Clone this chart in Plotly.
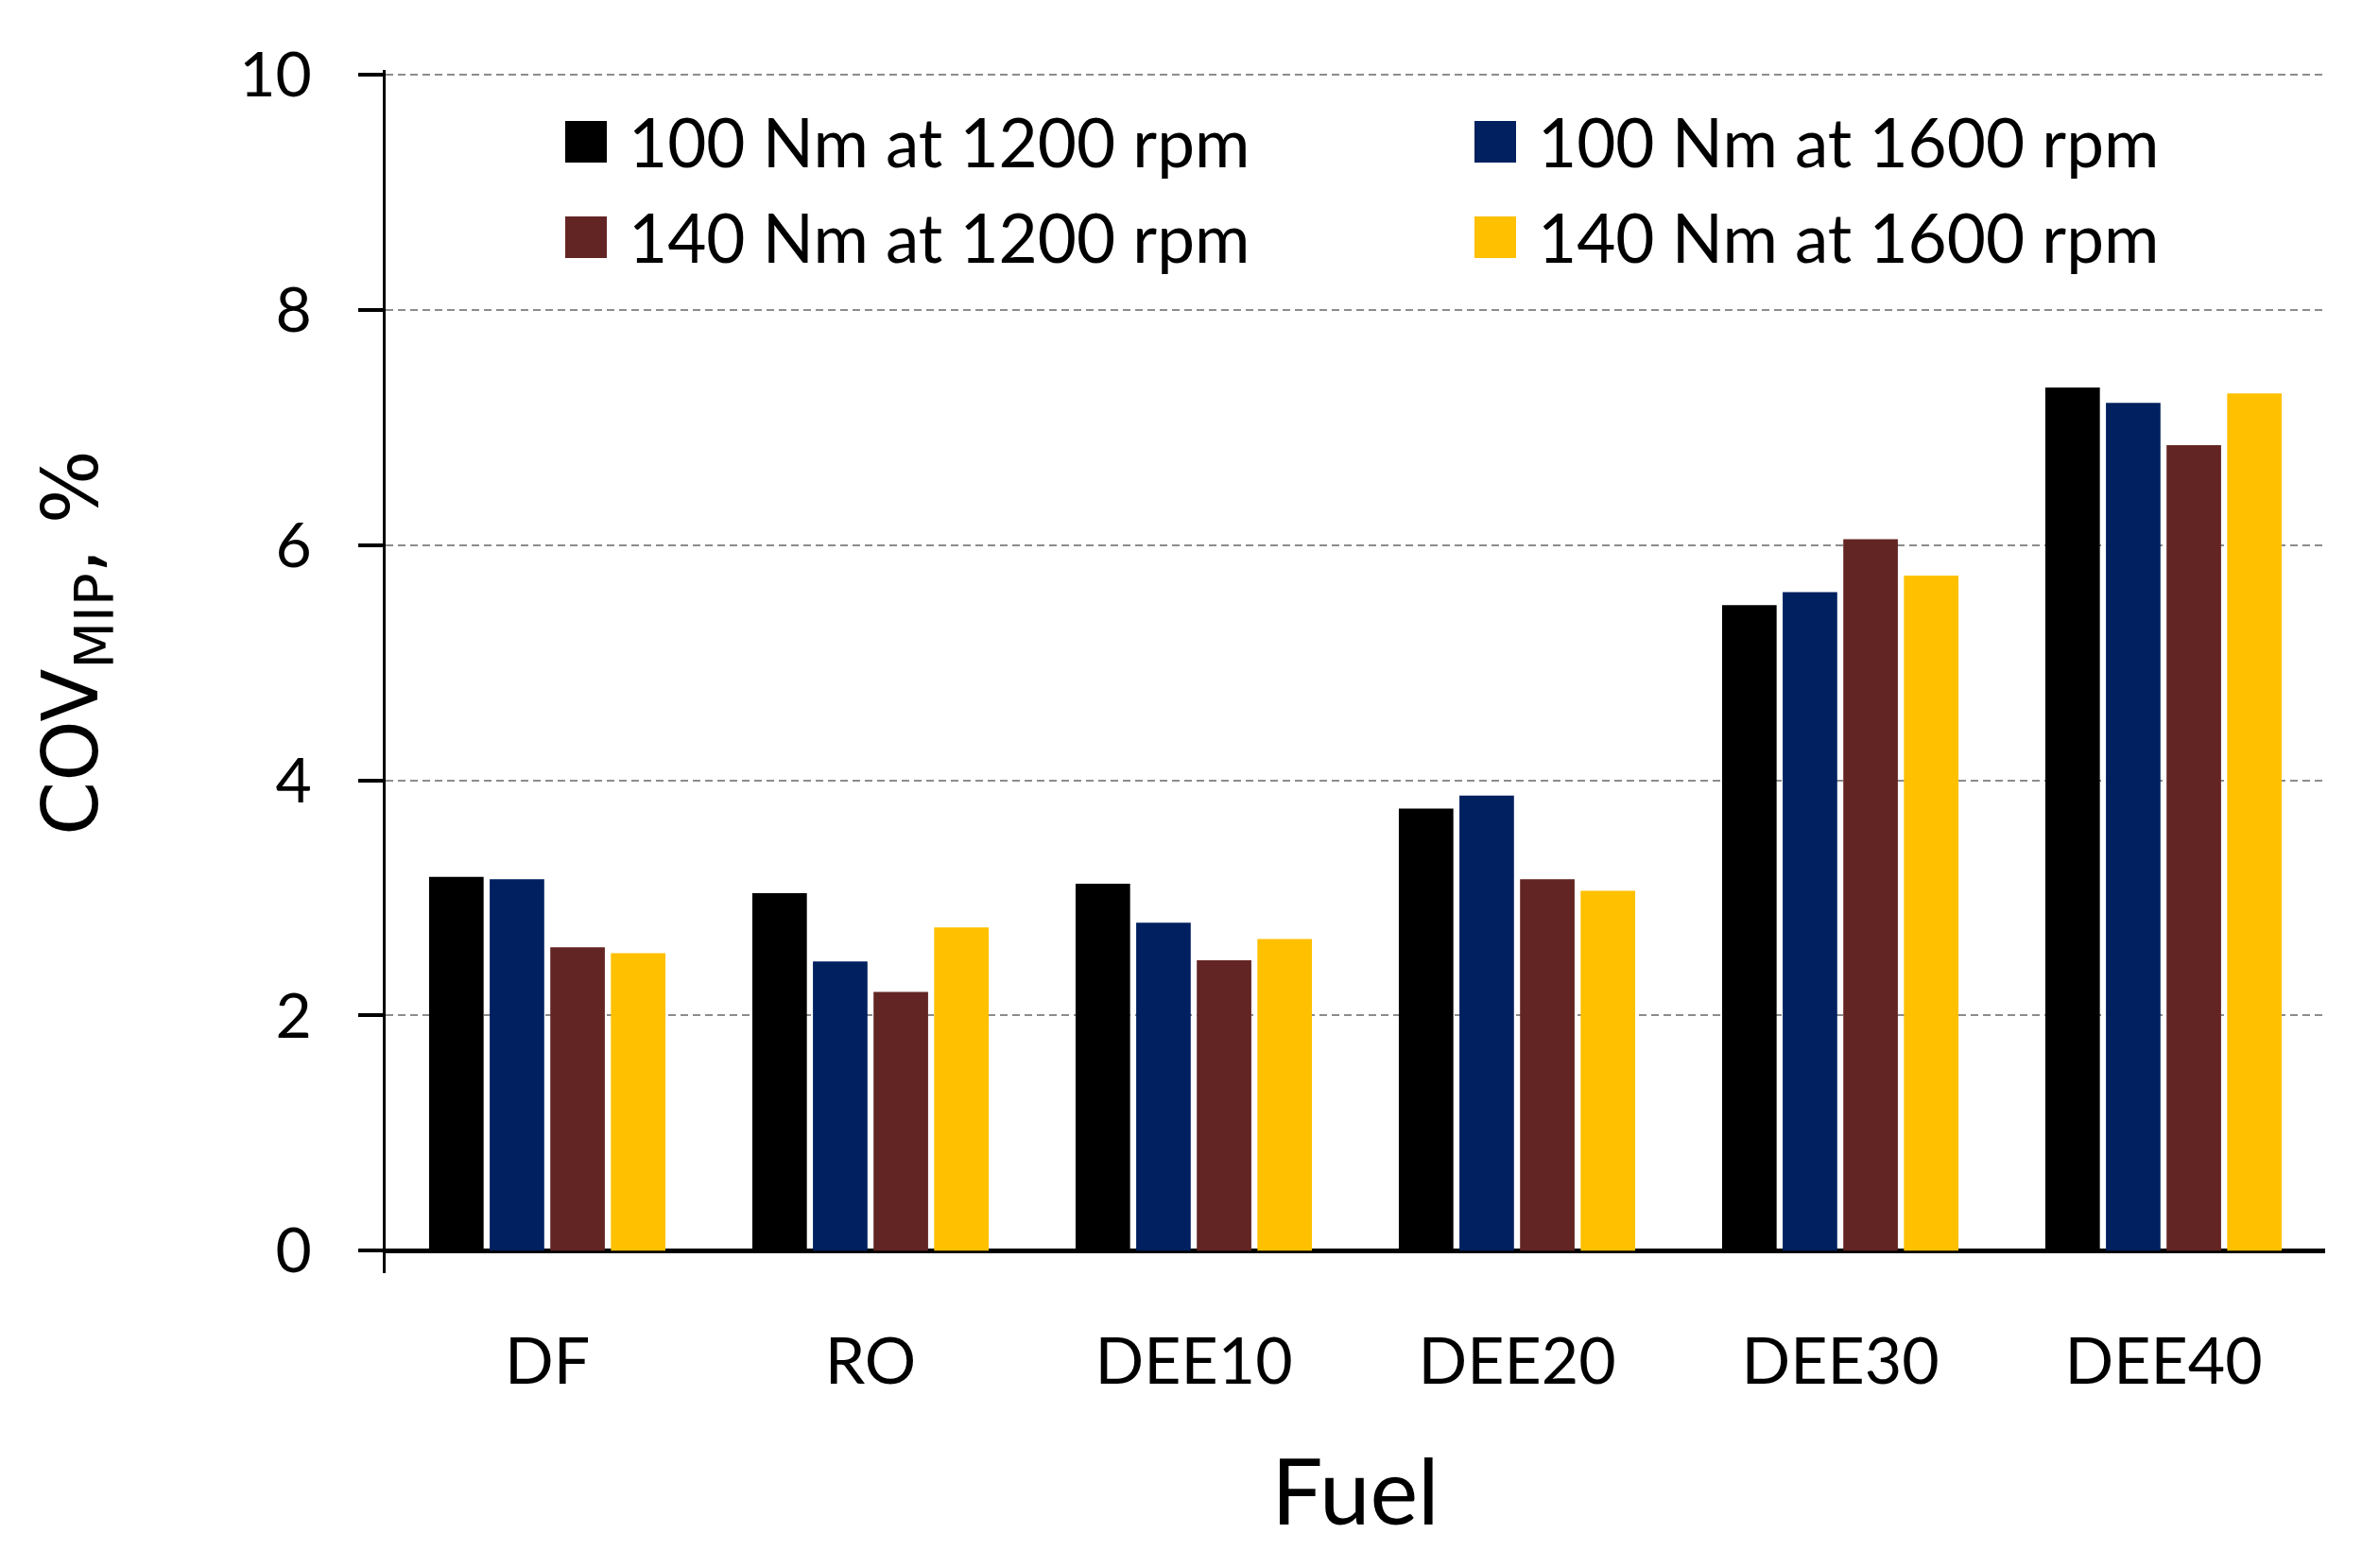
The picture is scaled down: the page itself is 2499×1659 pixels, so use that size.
import plotly.graph_objects as go

# ---- data ----
fuels = ["DF", "RO", "DEE10", "DEE20", "DEE30", "DEE40"]
series_names = ["100 Nm at 1200 rpm", "100 Nm at 1600 rpm",
                "140 Nm at 1200 rpm", "140 Nm at 1600 rpm"]
s_100_1200 = [3.18, 3.04, 3.12, 3.76, 5.49, 7.34]
s_100_1600 = [3.16, 2.46, 2.79, 3.87, 5.60, 7.21]
s_140_1200 = [2.58, 2.20, 2.47, 3.16, 6.05, 6.85]
s_140_1600 = [2.53, 2.75, 2.65, 3.06, 5.74, 7.29]
y_ticks = [0, 2, 4, 6, 8, 10]
y_title = "COV<sub>MIP</sub>, %"
x_title = "Fuel"

series_values = [s_100_1200, s_100_1600, s_140_1200, s_140_1600]
colors = ["#000000", "#002060", "#632523", "#FFC000"]

W, H = 2499, 1659
OFF = 8  # page body margin
ML, MR, MT, MB = 400, 47, 66, 320
PW, PH = W - ML - MR, H - MT - MB

FONT = "Lato"

fig = go.Figure()
for name, vals, col in zip(series_names, series_values, colors):
    fig.add_trace(go.Bar(x=fuels, y=vals, name=name, marker_color=col,
                         marker_line_width=0, showlegend=False))

# manual legend (2 x 2) to get the large square keys
def px_x(p):
    return (p - OFF - ML) / PW

def px_y(p):
    return (H - MB - (p - OFF)) / PH

leg_cols = [598, 1560]
leg_rows = [150, 251]
SQ = 44
for i, (name, col) in enumerate(zip(series_names, colors)):
    c, r = i % 2, i // 2
    x0 = px_x(leg_cols[c])
    yc = px_y(leg_rows[r])
    fig.add_shape(type="rect", xref="paper", yref="paper",
                  x0=x0, x1=x0 + SQ / PW,
                  y0=yc - SQ / 2 / PH, y1=yc + SQ / 2 / PH,
                  fillcolor=col, line_width=0, layer="above")
    fig.add_annotation(xref="paper", yref="paper", x=x0 + SQ / PW, xshift=21,
                       y=yc, yshift=0, text=name, showarrow=False,
                       xanchor="left", yanchor="middle",
                       font=dict(family=FONT, size=71, color="black"))

# y-axis title placed as in the reference (slightly above the plot centre)
fig.add_annotation(xref="paper", yref="paper", x=px_x(80), y=px_y(680),
                   text=y_title, textangle=-90, showarrow=False,
                   xanchor="center", yanchor="middle",
                   font=dict(family="DejaVu Sans", size=82, color="black"))

fig.update_layout(
    width=W, height=H,
    margin=dict(l=ML, r=MR, t=MT, b=MB, autoexpand=False),
    plot_bgcolor="white", paper_bgcolor="white",
    barmode="group", bargap=0.25, bargroupgap=0.1,
    font=dict(family=FONT, color="black"),
)
fig.update_xaxes(
    range=[-0.5, 5.5], showline=False, ticks="", showgrid=False,
    tickfont=dict(family=FONT, size=68, color="black"),
    ticklabelstandoff=48,
    title=dict(text=x_title, font=dict(family=FONT, size=96, color="black"),
               standoff=68),
)
fig.update_yaxes(
    range=[-0.19, 10.04], tickvals=y_ticks, ticktext=[str(v) for v in y_ticks],
    showline=True, linecolor="black", linewidth=3,
    ticks="outside", ticklen=26, tickwidth=4, tickcolor="black",
    tickfont=dict(family=FONT, size=66, color="black"),
    ticklabelstandoff=36,
    showgrid=True, gridcolor="#8c8c8c", gridwidth=2, griddash="8px,5px",
    zeroline=True, zerolinecolor="black", zerolinewidth=5,
)

fig.write_html("out.html")
